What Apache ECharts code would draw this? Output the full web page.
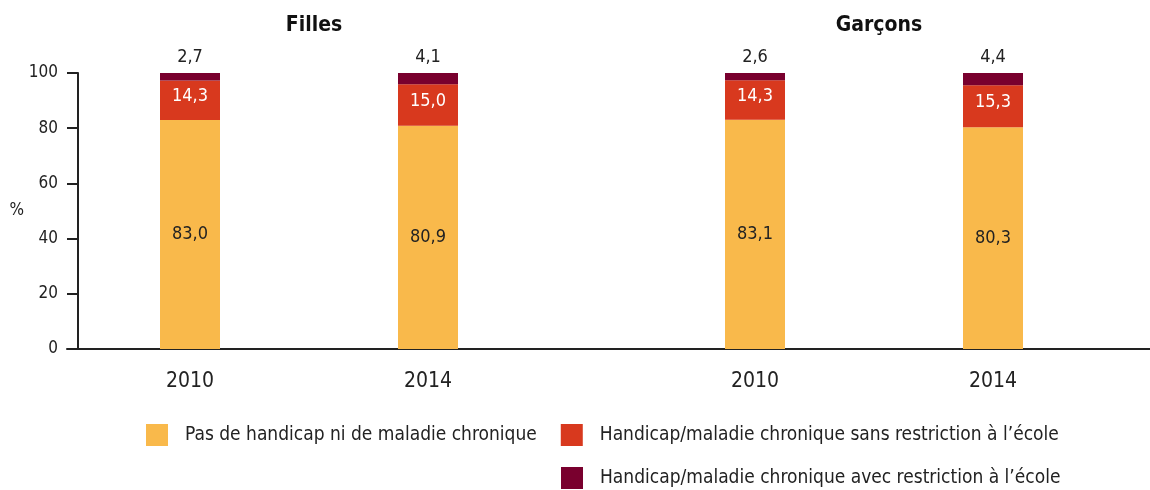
<!DOCTYPE html>
<html>
<head>
<meta charset="utf-8">
<script src="https://cdn.jsdelivr.net/npm/echarts@6/dist/echarts.min.js"></script>
<style>
  html, body { margin: 0; padding: 0; background: #fff; }
  #chart { width: 1150px; height: 490px; }
</style>
</head>
<body>
<div id="chart"></div>
<script>
// données
var groups = ["Filles", "Garçons"];
var years = ["2010", "2014"];
var yTicks = [0, 20, 40, 60, 80, 100];
var seriesNames = [
  "Pas de handicap ni de maladie chronique",
  "Handicap/maladie chronique sans restriction à l’école",
  "Handicap/maladie chronique avec restriction à l’école"
];
// valeurs par groupe : [2010, 2014]
var pasHandicap = [[83.0, 80.9], [83.1, 80.3]];
var sansRestriction = [[14.3, 15.0], [14.3, 15.3]];
var avecRestriction = [[2.7, 4.1], [2.6, 4.4]];

var font = "'Liberation Sans Narrow', 'DejaVu Sans Condensed', sans-serif";
var colors = ["#F9B94B", "#D8391E", "#79002E"];

function fmt(p) {
  return p.value.toFixed(1).replace(".", ",");
}

var myChart = echarts.init(document.getElementById("chart"));

var grids = [
  { left: 71, width: 476, top: 73, bottom: 141 },
  { left: 636, width: 476, top: 73, bottom: 141 },
  { left: 67, right: 0, top: 73, bottom: 141 } // ligne de base continue
];

var xAxes = [];
var yAxes = [];
var series = [];
var titles = [];

groups.forEach(function (g, gi) {
  xAxes.push({
    type: "category",
    gridIndex: gi,
    data: years,
    axisLine: { show: false },
    axisTick: { show: false },
    axisLabel: { fontFamily: font, fontSize: 21, color: "#222", margin: 22 }
  });
  yAxes.push({
    type: "value",
    gridIndex: gi,
    min: yTicks[0],
    max: yTicks[yTicks.length - 1],
    interval: 20,
    show: gi === 0,
    offset: -7,
    name: gi === 0 ? "%" : "",
    nameLocation: "middle",
    nameRotate: 0,
    nameGap: 54,
    nameTextStyle: { fontFamily: font, fontSize: 17, color: "#222" },
    axisLine: { show: true, lineStyle: { color: "#222", width: 2 } },
    axisTick: { show: true, length: 11, lineStyle: { color: "#222", width: 2 } },
    axisLabel: { fontFamily: font, fontSize: 17, color: "#222", margin: 20 },
    splitLine: { show: false }
  });
  titles.push({
    text: g,
    left: grids[gi].left + grids[gi].width / 2,
    top: 10,
    textAlign: "center",
    textStyle: { fontFamily: font, fontSize: 21, fontWeight: "bold", color: "#111" }
  });

  var sets = [pasHandicap[gi], sansRestriction[gi], avecRestriction[gi]];
  sets.forEach(function (vals, si) {
    var label;
    if (si === 0) {
      label = { show: true, position: "inside", color: "#222", fontFamily: font, fontSize: 18, formatter: fmt };
    } else if (si === 1) {
      label = { show: true, position: "inside", offset: [0, -4], color: "#fff", fontFamily: font, fontSize: 18, formatter: fmt };
    } else {
      label = { show: true, position: "top", distance: 7, color: "#222", fontFamily: font, fontSize: 18, formatter: fmt };
    }
    series.push({
      name: seriesNames[si],
      type: "bar",
      stack: "g" + gi,
      xAxisIndex: gi,
      yAxisIndex: gi,
      barWidth: 60,
      itemStyle: { color: colors[si] },
      label: label,
      data: vals
    });
  });
});

// axe de base
xAxes.push({
  type: "category",
  gridIndex: 2,
  data: [""],
  axisLine: { show: true, lineStyle: { color: "#222", width: 2 } },
  axisTick: { show: false },
  axisLabel: { show: false }
});
yAxes.push({ type: "value", gridIndex: 2, min: 0, max: 100, show: false });

var legendText = { fontFamily: font, fontSize: 19, color: "#222", padding: [0, 0, 0, 12] };

var option = {
  animation: false,
  title: titles,
  legend: [
    {
      data: seriesNames.slice(0, 2),
      left: 146,
      top: 424,
      padding: 0,
      itemWidth: 22,
      itemHeight: 22,
      itemGap: 24,
      icon: "rect",
      textStyle: legendText
    },
    {
      data: seriesNames.slice(2),
      left: 561,
      top: 467,
      padding: 0,
      itemWidth: 22,
      itemHeight: 22,
      icon: "rect",
      textStyle: legendText
    }
  ],
  grid: grids,
  xAxis: xAxes,
  yAxis: yAxes,
  series: series
};

myChart.setOption(option);
</script>
</body>
</html>
